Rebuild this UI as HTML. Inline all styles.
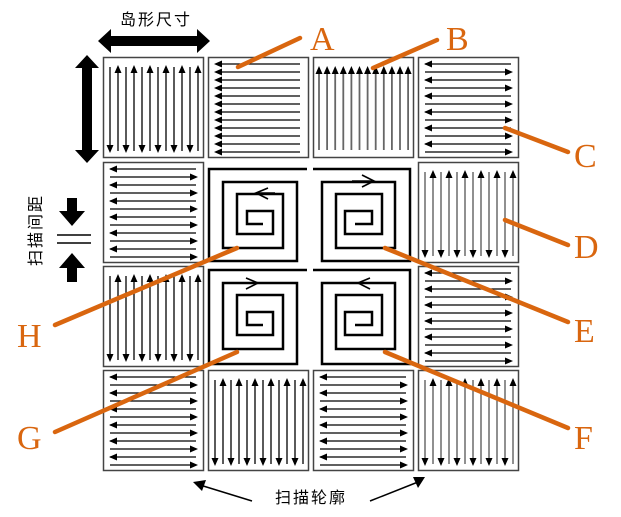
<!DOCTYPE html>
<html><head><meta charset="utf-8"><style>
html,body{margin:0;padding:0;background:#fff;width:621px;height:517px;overflow:hidden}
svg{display:block}
.cn{font-family:"Liberation Sans","Noto Sans CJK SC",sans-serif;font-size:16px;letter-spacing:2px;fill:#000}
.lt{font-family:"Liberation Serif",serif;font-size:34px;fill:#d9660f}
</style></head><body>
<svg id="s" width="621" height="517" viewBox="0 0 621 517" xmlns="http://www.w3.org/2000/svg">
<g id="g"></g>
<g fill="none" stroke="#000" stroke-width="2.5">
<polyline points="263,224 247,224 247,211 273,211 273,234 237,234 237,194 283,194 283,248 223,248 223,182 297,182 297,261 209,261 209,169 307,169"/>
<polyline points="355,224 372,224 372,211 345,211 345,234 382,234 382,194 336,194 336,248 395,248 395,182 322,182 322,261 410,261 410,169 313,169"/>
<polyline points="263,325 247,325 247,312 273,312 273,335 237,335 237,295 283,295 283,349 223,349 223,283 297,283 297,364 209,364 209,270 307,270"/>
<polyline points="355,325 372,325 372,312 345,312 345,335 382,335 382,295 336,295 336,349 395,349 395,283 322,283 322,364 410,364 410,270 313,270"/>
<g stroke-width="1.6">
<polyline points="268,188 256,193 268,199"/><line x1="256" y1="193" x2="275" y2="193"/>
<polyline points="362,175 374,181 362,187"/><line x1="352" y1="181" x2="374" y2="181"/>
<polyline points="246,278 258,283 246,289"/><line x1="244" y1="283" x2="258" y2="283"/>
<polyline points="370,278 358,283 370,289"/><line x1="358" y1="283" x2="378" y2="283"/>
</g>
</g>
<g stroke="#d9660f" stroke-width="4.5" stroke-linecap="round">
<line x1="238" y1="67" x2="300" y2="38"/>
<line x1="373" y1="68" x2="437" y2="40"/>
<line x1="505" y1="128" x2="568" y2="152"/>
<line x1="505" y1="220" x2="568" y2="245"/>
<line x1="385" y1="248" x2="568" y2="322"/>
<line x1="385" y1="352" x2="568" y2="428"/>
<line x1="237" y1="352" x2="55" y2="432"/>
<line x1="237" y1="248" x2="55" y2="325"/>
</g>
<text class="lt" x="310" y="50">A</text>
<text class="lt" x="446" y="50">B</text>
<text class="lt" x="574" y="167">C</text>
<text class="lt" x="574" y="258">D</text>
<text class="lt" x="574" y="342">E</text>
<text class="lt" x="574" y="449">F</text>
<text class="lt" x="17" y="449">G</text>
<text class="lt" x="17" y="347">H</text>
<polygon points="98,41 111,29 111,36 197,36 197,29 210,41 197,53 197,46 111,46 111,53" fill="#000"/>
<polygon points="87,55 99,68 92,68 92,150 99,150 87,163 75,150 82,150 82,68 75,68" fill="#000"/>
<text class="cn" x="120" y="25">岛形尺寸</text>
<text class="cn" transform="translate(41,266) rotate(-90)">扫描间距</text>
<polygon points="67,198 77,198 77,211 85,211 72,226 59,211 67,211" fill="#000"/>
<polygon points="72,253 85,268 77,268 77,282 67,282 67,268 59,268" fill="#000"/>
<line x1="57" y1="235" x2="91" y2="235" stroke="#000" stroke-width="1.5"/>
<line x1="57" y1="243" x2="91" y2="243" stroke="#000" stroke-width="1.5"/>
<text class="cn" x="275" y="503">扫描轮廓</text>
<line x1="252" y1="501" x2="200" y2="485" stroke="#000" stroke-width="1.5"/>
<polygon points="193,482 206,480 202,491" fill="#000"/>
<line x1="370" y1="501" x2="418" y2="482" stroke="#000" stroke-width="1.5"/>
<polygon points="425,477 413,477 418,488" fill="#000"/>
</svg>
<script>
var NS="http://www.w3.org/2000/svg",g=document.getElementById("g");
function el(t,a){var e=document.createElementNS(NS,t);for(var k in a)e.setAttribute(k,a[k]);g.appendChild(e);return e;}
function ln(x1,y1,x2,y2,c,w){el("line",{x1:x1,y1:y1,x2:x2,y2:y2,stroke:c||"#000","stroke-width":w||1.3});}
function tri(p){el("polygon",{points:p,fill:"#000"});}
function up(x,y){tri((x-3.5)+","+(y+8)+" "+x+","+y+" "+(x+3.5)+","+(y+8));}
function dn(x,y){tri((x-3.5)+","+(y-8)+" "+x+","+y+" "+(x+3.5)+","+(y-8));}
function lf(x,y){tri((x+8)+","+(y-3.5)+" "+x+","+y+" "+(x+8)+","+(y+3.5));}
function rt(x,y){tri((x-8)+","+(y-3.5)+" "+x+","+y+" "+(x-8)+","+(y+3.5));}
function box(x,y){el("rect",{x:x+0.5,y:y+0.5,width:100,height:100,fill:"none",stroke:"#444","stroke-width":1.5});}
function vAlt(x,y,c){box(x,y);for(var i=0;i<12;i++){var xx=x+7+i*8;ln(xx,y+10,xx,y+94,c);if(i%2==0)dn(xx,y+96);else up(xx,y+8);}}
function hAlt(x,y){box(x,y);for(var i=0;i<12;i++){var yy=y+7+i*8;ln(x+7,yy,x+93,yy);if(i%2==0)lf(x+6,yy);else rt(x+95,yy);}}
var C=[103,208,313,418],R=[57,162,266,370];
vAlt(C[0],R[0]);
box(C[1],R[0]);for(var i=0;i<12;i++){var yy=R[0]+7+i*8;ln(C[1]+10,yy,C[1]+92,yy);lf(C[1]+6,yy);}
box(C[2],R[0]);for(var i=0;i<12;i++){var xx=C[2]+6+i*8.1;ln(xx,R[0]+16,xx,R[0]+93,"#666",1.8);up(xx,R[0]+9);}
hAlt(C[3],R[0]);
hAlt(C[0],R[1]);vAlt(C[3],R[1],"#555");
vAlt(C[0],R[2]);hAlt(C[3],R[2]);
hAlt(C[0],R[3]);vAlt(C[1],R[3]);hAlt(C[2],R[3]);vAlt(C[3],R[3],"#555");
</script>
</body></html>
